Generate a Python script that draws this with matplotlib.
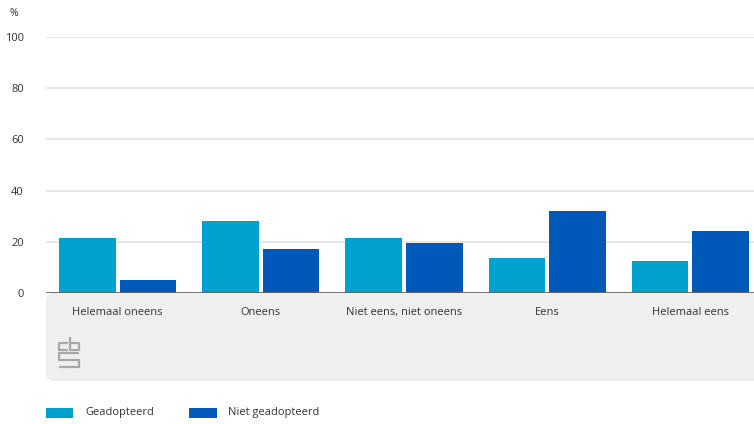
import matplotlib
matplotlib.use("Agg")
import matplotlib.pyplot as plt
import numpy as np
from matplotlib.patches import FancyBboxPatch, Rectangle

categories = ["Helemaal oneens", "Oneens", "Niet eens, niet oneens", "Eens", "Helemaal eens"]
geadopteerd = [21.5, 28.2, 21.5, 13.8, 12.5]
niet_geadopteerd = [5.2, 17.3, 19.4, 32.1, 24.2]
series_names = ["Geadopteerd", "Niet geadopteerd"]
yticks = [0, 20, 40, 60, 80, 100]

c_light = "#00a1cd"
c_dark = "#0058b8"

plt.rcParams['font.family'] = ['Open Sans', 'DejaVu Sans']

W, H = 754, 424
fig = plt.figure(figsize=(W/100, H/100), dpi=100)

# grey panel behind category labels
bg = fig.add_axes([0, 0, 1, 1], zorder=-5)
bg.set_xlim(0, W)
bg.set_ylim(H, 0)
bg.axis("off")
bg.add_patch(FancyBboxPatch((46, 293), W + 20 - 46, 381 - 293,
                            boxstyle="round,pad=0,rounding_size=8",
                            facecolor="#efefef", edgecolor="none"))
# cbs logo approximation (decorative outline)
logo_kw = dict(color="#a8a8a8", linewidth=1.6, solid_capstyle="butt")
bg.plot([68, 59, 59, 68], [343, 343, 350, 350], **logo_kw)
bg.plot([70, 70, 79, 79, 70], [337, 350, 350, 343, 343], **logo_kw)
bg.plot([79, 59, 59, 79, 79, 59], [353, 353, 360, 360, 367, 367], **logo_kw)

ax = fig.add_axes([46/W, 1-293/H, 716/W, (293-37)/H], zorder=2)
ax.set_facecolor("none")
x = np.arange(len(categories))
bw = 0.395
gap = 0.014
ax.bar(x - bw/2 - gap, geadopteerd, width=bw, color=c_light, zorder=3, label=series_names[0])
ax.bar(x + bw/2 + gap, niet_geadopteerd, width=bw, color=c_dark, zorder=3, label=series_names[1])

ax.set_xlim(-0.5, len(categories) - 0.5)
ax.set_ylim(0, 100)
ax.set_yticks(yticks)
ax.set_yticklabels([str(t) for t in yticks], fontsize=8, color="#333333")
ax.yaxis.grid(True, color="#e2e2e2", linewidth=1.2, zorder=0)
ax.axhline(0, color="#666666", linewidth=2, zorder=4)
for s in ax.spines.values():
    s.set_visible(False)
ax.tick_params(axis='y', length=0, pad=16)
ax.tick_params(axis='x', length=0, pad=10)
ax.set_xticks(x)
ax.set_xticklabels(categories, fontsize=8, color="#333333")

fig.text(10/W, 1-13/H, "%", fontsize=7.5, color="#333333", va="center", ha="left")

# legend
ly = 1-413/H
fig.patches.append(Rectangle((46/W, ly-5/H), 27/W, 10/H, transform=fig.transFigure,
                             facecolor=c_light, edgecolor="none"))
fig.text(85/W, ly, series_names[0], fontsize=8, color="#333333", va="center")
fig.patches.append(Rectangle((189/W, ly-5/H), 28/W, 10/H, transform=fig.transFigure,
                             facecolor=c_dark, edgecolor="none"))
fig.text(228/W, ly, series_names[1], fontsize=8, color="#333333", va="center")

fig.savefig("out.png", dpi=100)
